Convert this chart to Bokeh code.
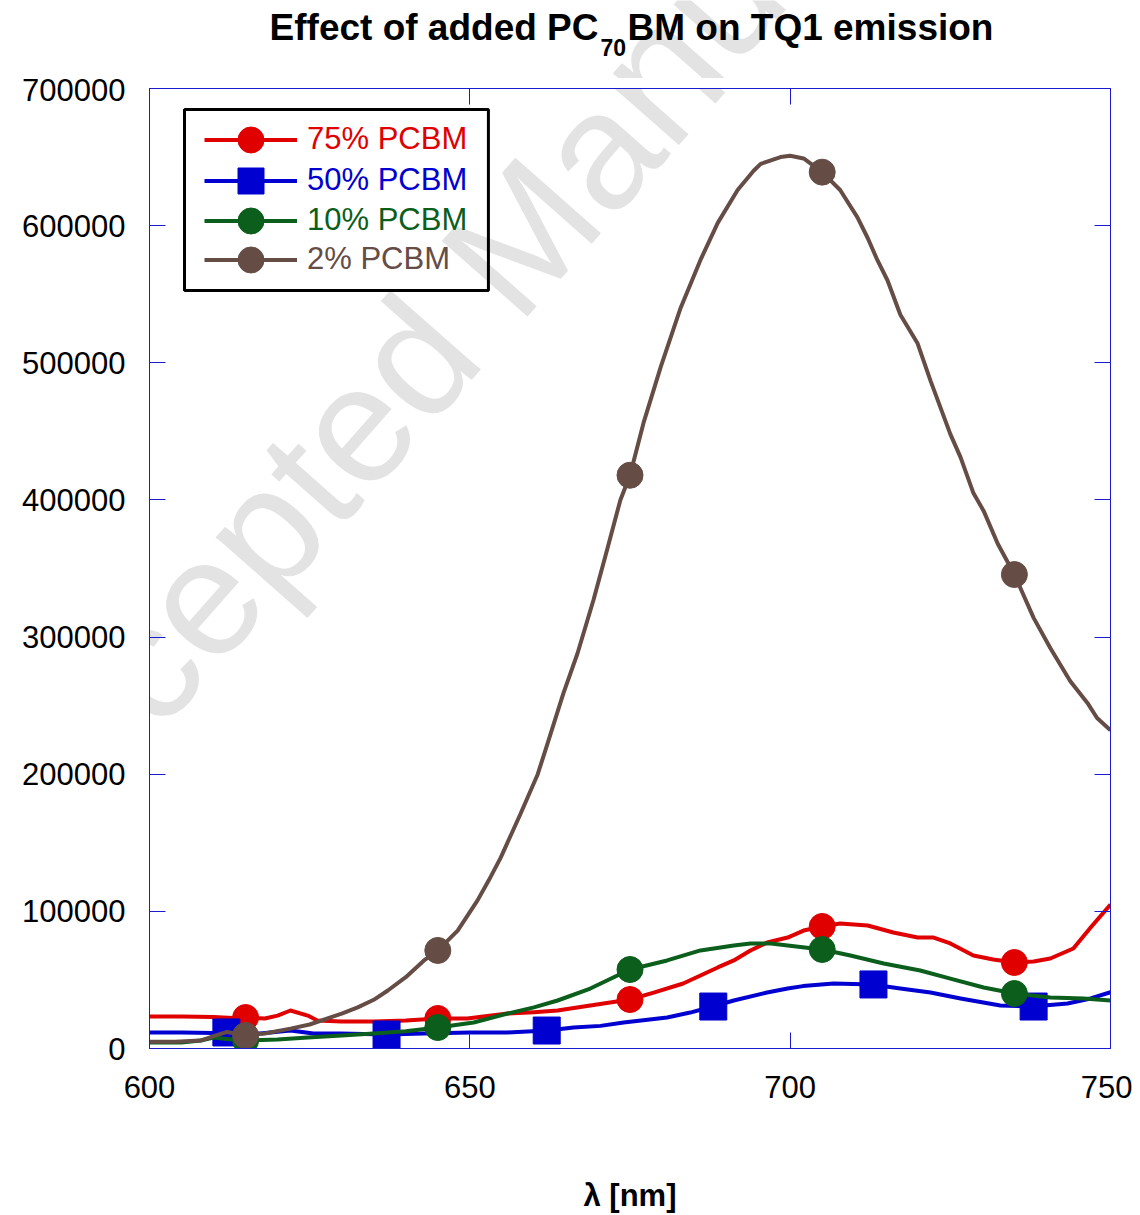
from bokeh.plotting import figure
from bokeh.layouts import column
from bokeh.models import (Legend, LegendItem, BoxAnnotation, Label, LinearAxis,
                          FixedTicker, BasicTickFormatter, CustomJSTickFormatter)
from bokeh.embed import file_html
from bokeh.resources import INLINE

# ---------------- data ----------------
x_2 = [600, 604, 608, 610, 612, 615, 618, 622, 625, 627.8, 630, 632.5, 635, 637.2, 640,
       642.8, 645, 648.1, 651.2, 653, 654.8, 657.9, 660.6, 662.1, 664.6, 666.8, 669.3,
       671.5, 673.5, 675, 677.1, 679.8, 682.9, 686, 688.7, 691.8, 694.3, 695.4, 698.5,
       700, 702.1, 705, 707.8, 710.5, 712.1, 713.6, 715.2, 717.2, 719.9, 721.9, 725,
       726.6, 728.6, 730.2, 732.4, 735, 738, 740.6, 743.7, 746.4, 747.9, 750]
y_2 = [5000, 5000, 5800, 9000, 12000, 9800, 11000, 14500, 17500, 22000, 25500, 30000,
       35500, 42300, 52000, 64000, 71500, 86000, 108000, 123000, 139000, 171000, 200000,
       222000, 259000, 288000, 327000, 365000, 400000, 418000, 456000, 497000, 540000,
       575000, 602000, 626000, 640000, 645000, 650000, 651000, 649000, 639000, 626000,
       606000, 591000, 575000, 560000, 535000, 514000, 487000, 448000, 431000, 405000,
       392000, 368000, 345600, 314000, 292000, 268000, 252000, 241000, 232000]
mx_2 = [615, 645, 675, 705, 735]
my_2 = [9500, 71500, 418000, 639000, 345600]

x_75 = [600, 605, 610, 613, 615, 618, 620, 622, 624.7, 626.2, 630, 635, 640, 645, 649.6,
        655.9, 660, 663.7, 668.8, 675, 678.7, 683.3, 688.7, 691.2, 693.8, 696.4, 699.6,
        702.1, 705, 707.8, 712.1, 716.1, 719.9, 722.4, 725, 728.6, 731.7, 735, 738, 740.6,
        744.2, 746.9, 750]
y_75 = [23300, 23300, 23000, 22300, 22600, 21900, 24000, 27700, 24000, 20400, 19700,
        19700, 20400, 21900, 21900, 25500, 26500, 27700, 31400, 35700, 40800, 47400,
        59100, 64200, 71500, 77300, 80900, 86000, 89000, 91100, 89700, 84600, 80900,
        80900, 76600, 67800, 64900, 62700, 63400, 65600, 72900, 88200, 105000]
mx_75 = [615, 645, 675, 705, 735]
my_75 = [22600, 21900, 35700, 89000, 62700]

x_50 = [600, 605, 610, 612, 617.3, 622, 625.6, 629.8, 637, 642.8, 650, 655.9, 662.1,
        666.2, 670.4, 674, 680.8, 684.4, 687.9, 691.2, 696.4, 699.6, 702, 706.8, 712.8,
        717.2, 721.9, 726.6, 732.8, 737.8, 743.3, 746.9, 750]
y_50 = [11700, 11700, 11300, 11700, 10900, 13100, 10900, 10900, 10200, 10900, 11700,
        11700, 13100, 15300, 16500, 19000, 22600, 26200, 30600, 35000, 40800, 43700,
        45500, 47400, 46700, 43700, 40800, 36500, 31400, 30600, 32800, 36500, 41000]
mx_50 = [612, 637, 662, 688, 713, 738]
my_50 = [11700, 10200, 13100, 30600, 46700, 30600]

x_10 = [600, 605, 608, 610, 612, 615, 620, 624.7, 630, 635, 640, 645, 650.6, 655.9, 660,
        663.7, 668.8, 675, 680.8, 686, 691.2, 693.8, 697, 701.6, 705, 709.4, 714.6,
        720.3, 725, 730.2, 735, 740.6, 745.8, 750]
y_10 = [4400, 4400, 5800, 8000, 7000, 5800, 6500, 8000, 9500, 10900, 12500, 15300,
        19000, 25500, 30000, 35000, 43700, 57600, 64200, 71500, 75100, 76600, 76600,
        74000, 72200, 67800, 62000, 56900, 51000, 44500, 40100, 37200, 36500, 35000]
mx_10 = [615, 645, 675, 705, 735]
my_10 = [5800, 15300, 57600, 72200, 40100]

x_ticks = [600, 650, 700, 750]
y_ticks = [0, 100000, 200000, 300000, 400000, 500000, 600000, 700000]

RED = "#e00000"
BLUE = "#0000d0"
GREEN = "#0b5e1c"
BROWN = "#654d46"
AXC = "#1a1ad0"
FONT = "Liberation Sans"
WM = "#e3e3e3"

TITLE_H = 78
DY = 14  # measured vertical correction of the title strip

# ---------------- title strip (frame aligned with the main frame: x = page px) ----
pt = figure(frame_width=961, frame_height=TITLE_H, x_range=(149, 1110),
            y_range=(0, TITLE_H), output_backend="svg", toolbar_location=None,
            x_axis_location=None, y_axis_location=None,
            min_border_left=149, min_border_right=22, min_border_top=0,
            min_border_bottom=0, outline_line_color=None,
            background_fill_color="white", border_fill_color="white")
pt.grid.visible = False
pt.add_layout(Label(x=56, y=TITLE_H - 903 + DY, text="Accepted Manuscript", angle=0.848,
                    text_font=FONT, text_font_size="166px", text_color=WM,
                    level="underlay"))
pt.add_layout(Label(x=598, y=TITLE_H - 41 + DY, text="Effect of added PC",
                    text_align="right",
                    text_baseline="alphabetic", text_font=FONT, text_font_size="37px",
                    text_font_style="bold", text_color="black"))
pt.add_layout(Label(x=600, y=TITLE_H - 61 + DY, text="70", text_align="left",
                    text_baseline="alphabetic", text_font=FONT, text_font_size="23px",
                    text_font_style="bold", text_color="black"))
pt.add_layout(Label(x=627, y=TITLE_H - 41 + DY, text="BM on TQ1 emission",
                    text_align="left",
                    text_baseline="alphabetic", text_font=FONT, text_font_size="37px",
                    text_font_style="bold", text_color="black"))

# ---------------- main plot ----------------
p = figure(frame_width=961, frame_height=960, x_range=(600, 750), y_range=(0, 700000),
           output_backend="svg", toolbar_location=None,
           x_axis_location=None, y_axis_location=None,
           min_border_left=149, min_border_top=88 - TITLE_H, min_border_right=22,
           min_border_bottom=160, background_fill_color="white",
           border_fill_color="white", outline_line_color=AXC)
p.grid.visible = False


def make_axis(ticks, labels, **kw):
    ax = LinearAxis(ticker=FixedTicker(ticks=ticks),
                    axis_line_color=AXC, axis_line_width=1,
                    major_tick_line_color=AXC, major_tick_in=16, major_tick_out=0,
                    minor_tick_in=0, minor_tick_out=0, minor_tick_line_color=None,
                    major_label_text_font=FONT,
                    major_label_text_color="black", **kw)
    if labels:
        ax.formatter = BasicTickFormatter(use_scientific=False)
        ax.major_label_text_font_size = "31px"
    else:
        ax.formatter = CustomJSTickFormatter(code="return ''")
        ax.major_label_text_font_size = "1px"
        ax.major_label_standoff = 0
    return ax


bottom = make_axis(x_ticks, True, major_label_standoff=27)
bottom.axis_label = "λ [nm]"
bottom.axis_label_text_font = FONT
bottom.axis_label_text_font_size = "31px"
bottom.axis_label_text_font_style = "bold"
bottom.axis_label_text_color = "black"
bottom.axis_label_standoff = 77
left = make_axis(y_ticks, True, major_label_standoff=24)
top = make_axis(x_ticks, False)
right = make_axis(y_ticks, False)
p.add_layout(bottom, "below")
p.add_layout(left, "left")
p.add_layout(top, "above")
p.add_layout(right, "right")

# watermark (screen units, relative to the frame's bottom-left)
p.add_layout(Label(x=-93, y=145, x_units="screen", y_units="screen",
                   text="Accepted Manuscript", angle=0.848,
                   text_font=FONT, text_font_size="166px", text_color=WM,
                   level="underlay"))

series = [
    ("75% PCBM", x_75, y_75, mx_75, my_75, RED, "circle", 26),
    ("50% PCBM", x_50, y_50, mx_50, my_50, BLUE, "square", 27),
    ("10% PCBM", x_10, y_10, mx_10, my_10, GREEN, "circle", 26),
    ("2% PCBM", x_2, y_2, mx_2, my_2, BROWN, "circle", 26),
]

row_centers = [139, 180, 220, 259]
for (label, xs, ys, mxs, mys, col, mk, sz), yc in zip(series, row_centers):
    lr = p.line(xs, ys, line_color=col, line_width=4, line_join="round")
    sr = p.scatter(mxs, mys, marker=mk, size=sz, fill_color=col, line_color=col)
    lg = Legend(items=[LegendItem(label=label, renderers=[lr, sr])],
                location=(55, 1048 - yc - 32.5),
                glyph_width=93, glyph_height=65, label_height=20, label_standoff=10,
                padding=0, margin=0, spacing=0,
                border_line_color=None, background_fill_alpha=0,
                label_text_font=FONT, label_text_font_size="31px",
                label_text_color=col)
    p.add_layout(lg, "center")

# legend frame
p.add_layout(BoxAnnotation(left=605.46, right=652.9, top=684700, bottom=552700,
                           fill_alpha=0, line_color="black", line_alpha=1, line_width=3))

layout = column(pt, p, spacing=0)
open("out.html", "w").write(file_html(layout, INLINE))
